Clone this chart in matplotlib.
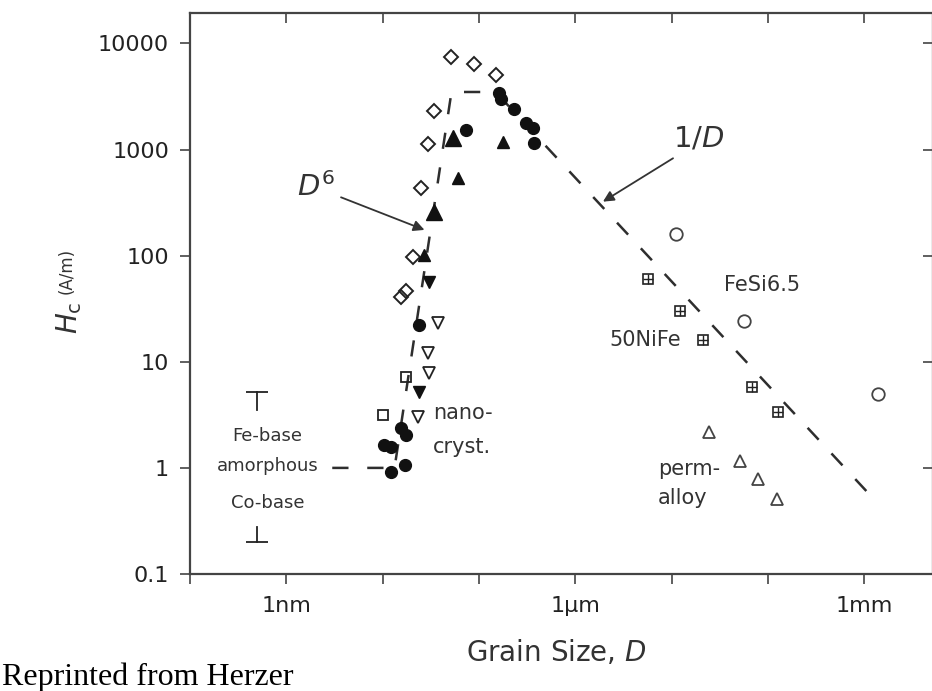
import matplotlib
matplotlib.use('Agg')
import matplotlib.pyplot as plt
from matplotlib.ticker import FixedLocator, FixedFormatter, NullLocator

# grain size D in nm, coercivity Hc in A/m
diamond_D = [51.5, 88.5, 151, 34.5, 29.4, 25.1, 20.6, 17.6, 15.6]
diamond_Hc = [7500, 6400, 5100, 2300, 1130, 430, 98, 46, 41]

circle_D = [161, 171, 231, 310, 363, 372, 72.6, 24.1, 15.6, 17.6, 10.4, 12.3, 12.3, 16.9]
circle_Hc = [3440, 2980, 2400, 1770, 1590, 1160, 1530, 22.2, 2.36, 2.04, 1.64, 1.58, 0.92, 1.06]

tri_big_D = [53.5, 34.5]
tri_big_Hc = [1280, 260]
tri_small_D = [177, 60.4, 27.2]
tri_small_Hc = [1190, 536, 102]

tri_down_D = [30.6, 23.7]
tri_down_Hc = [56.9, 5.23]

open_down_D = [37.4, 29.4, 30.6, 23.2]
open_down_Hc = [23.1, 12.2, 7.79, 3.04]

square_D = [17.6, 10.0]
square_Hc = [7.24, 3.15]

fesi_D = [11060, 56750, 1.40e6]
fesi_Hc = [159, 24.4, 4.94]

nife_D = [5700, 12170, 21260, 67700, 128000]
nife_Hc = [60.3, 30.1, 16.0, 5.83, 3.39]

perm_D = [24370, 51160, 78160, 123100]
perm_Hc = [2.19, 1.17, 0.785, 0.509]

# dashed guide: amorphous level, D^6 rise, plateau, 1/D fall
guide_D = [3.0, 13.3, 51.9, 149, 1.15e6]
guide_Hc = [1.0, 1.0, 3490, 3490, 0.556]

# amorphous range marks (Fe-base top, Co-base bottom)
amorph_D = 0.50
fe_base_Hc = [3.51, 5.23]
co_base_Hc = [0.28, 0.20]

xtick_vals = [0.1, 1, 10, 100, 1e3, 1e4, 1e5, 1e6]
xtick_labels = ['', '1nm', '', '', '1\u00b5m', '', '', '1mm']
ytick_vals = [0.1, 1, 10, 100, 1000, 10000]
ytick_labels = ['0.1', '1', '10', '100', '1000', '10000']

fig = plt.figure(figsize=(9.32, 6.91), dpi=100)
# right edge of the frame sits just past the picture border, as in the scan
ax = fig.add_axes([190 / 932, 1 - 574 / 691, 743 / 932, 561.3 / 691])
ax.set_xscale('log')
ax.set_yscale('log')
ax.set_xlim(0.1, 5.19e6)
ax.set_ylim(0.1, 19500)

dark = '#222222'
txt = '#333333'

ax.plot(guide_D, guide_Hc, color='#2e2e2e', lw=1.8, dashes=(6.5, 7.5), zorder=1)

ax.plot(diamond_D, diamond_Hc, 'D', ms=7, mfc='none', mec=dark, mew=1.4, ls='none')
ax.plot(circle_D, circle_Hc, 'o', ms=8.5, color='#111111', ls='none')
ax.plot(tri_big_D, tri_big_Hc, '^', ms=12, color='#111111', ls='none')
ax.plot(tri_small_D, tri_small_Hc, '^', ms=8.5, color='#111111', ls='none')
ax.plot(tri_down_D, tri_down_Hc, 'v', ms=8, color='#111111', ls='none')
ax.plot(open_down_D, open_down_Hc, 'v', ms=8, mfc='none', mec=dark, mew=1.3, ls='none')
ax.plot(square_D, square_Hc, 's', ms=7, mfc='none', mec=dark, mew=1.3, ls='none')
ax.plot(fesi_D, fesi_Hc, 'o', ms=9, mfc='none', mec='#444444', mew=1.3, ls='none')
ax.plot(nife_D, nife_Hc, 's', ms=7.5, mfc='none', mec=dark, mew=1.2, ls='none')
ax.plot(nife_D, nife_Hc, '+', ms=7.5, mec=dark, mew=1.0, ls='none')
ax.plot(perm_D, perm_Hc, '^', ms=9, mfc='none', mec='#444444', mew=1.3, ls='none')

# Fe-base / Co-base range marks
ax.plot([amorph_D, amorph_D], fe_base_Hc, color=dark, lw=1.3)
ax.plot([amorph_D], [fe_base_Hc[1]], '_', ms=16, mew=1.3, color=dark)
ax.plot([amorph_D, amorph_D], co_base_Hc, color=dark, lw=1.3)
ax.plot([amorph_D], [co_base_Hc[1]], '_', ms=16, mew=1.3, color=dark)

ax.text(0.64, 2.0, 'Fe-base', fontsize=13, color=txt, ha='center', va='center')
ax.text(0.64, 1.05, 'amorphous', fontsize=13, color=txt, ha='center', va='center')
ax.text(0.64, 0.463, 'Co-base', fontsize=13, color=txt, ha='center', va='center')
ax.text(33.2, 3.3, 'nano-', fontsize=15, color=txt, ha='left', va='center')
ax.text(33.2, 1.58, 'cryst.', fontsize=15, color=txt, ha='left', va='center')
ax.text(87700, 53, 'FeSi6.5', fontsize=15, color=txt, ha='center', va='center')
ax.text(5370, 16.0, '50NiFe', fontsize=15, color=txt, ha='center', va='center')
ax.text(7190, 0.978, 'perm-', fontsize=15, color=txt, ha='left', va='center')
ax.text(7190, 0.52, 'alloy', fontsize=15, color=txt, ha='left', va='center')

ax.text(2.04, 447, '$D^6$', fontsize=21, color=txt, ha='center', va='center')
ax.annotate('', xy=(27.2, 175), xytext=(3.7, 355),
            arrowprops=dict(arrowstyle='-|>', color='#333333', lw=1.3,
                            mutation_scale=16, shrinkA=0, shrinkB=0))
ax.text(19170, 1259, '1/$D$', fontsize=21, color=txt, ha='center', va='center')
ax.annotate('', xy=(1941, 323), xytext=(10370, 828),
            arrowprops=dict(arrowstyle='-|>', color='#333333', lw=1.3,
                            mutation_scale=16, shrinkA=0, shrinkB=0))

ax.xaxis.set_major_locator(FixedLocator(xtick_vals))
ax.xaxis.set_major_formatter(FixedFormatter(xtick_labels))
ax.xaxis.set_minor_locator(NullLocator())
ax.yaxis.set_major_locator(FixedLocator(ytick_vals))
ax.yaxis.set_major_formatter(FixedFormatter(ytick_labels))
ax.yaxis.set_minor_locator(NullLocator())

for s in ax.spines.values():
    s.set_color('#444444')
    s.set_linewidth(1.6)
ax.tick_params(axis='both', which='major', length=7, width=1.2, color='#444444',
               labelsize=16, labelcolor='#222222')
ax.tick_params(axis='x', pad=9)
ax.tick_params(axis='y', pad=8)
ax.tick_params(top=True, right=True, bottom=True, left=True)
# bottom and left ticks point out, top and right ticks point in
for t in ax.xaxis.get_major_ticks():
    t.tick1line.set_marker(matplotlib.lines.TICKDOWN)
    t.tick2line.set_marker(matplotlib.lines.TICKDOWN)
for t in ax.yaxis.get_major_ticks():
    t.tick1line.set_marker(matplotlib.lines.TICKLEFT)
    t.tick2line.set_marker(matplotlib.lines.TICKLEFT)

fig.text(556 / 932, 1 - 653 / 691, 'Grain Size, $D$', fontsize=20, color='#333333',
         ha='center', va='center')
fig.text(69 / 932, 1 - 318 / 691, r'$H_{\mathrm{c}}$', fontsize=20, color='#333333',
         rotation=90, ha='center', va='center')
fig.text(67 / 932, 1 - 271 / 691, '(A/m)', fontsize=12, color='#333333',
         rotation=90, ha='center', va='center')
fig.text(2 / 932, 1 - 685 / 691, 'Reprinted from Herzer', fontsize=23,
         family='Liberation Serif', color='black', ha='left', va='baseline')

fig.savefig('out.png', dpi=100)
